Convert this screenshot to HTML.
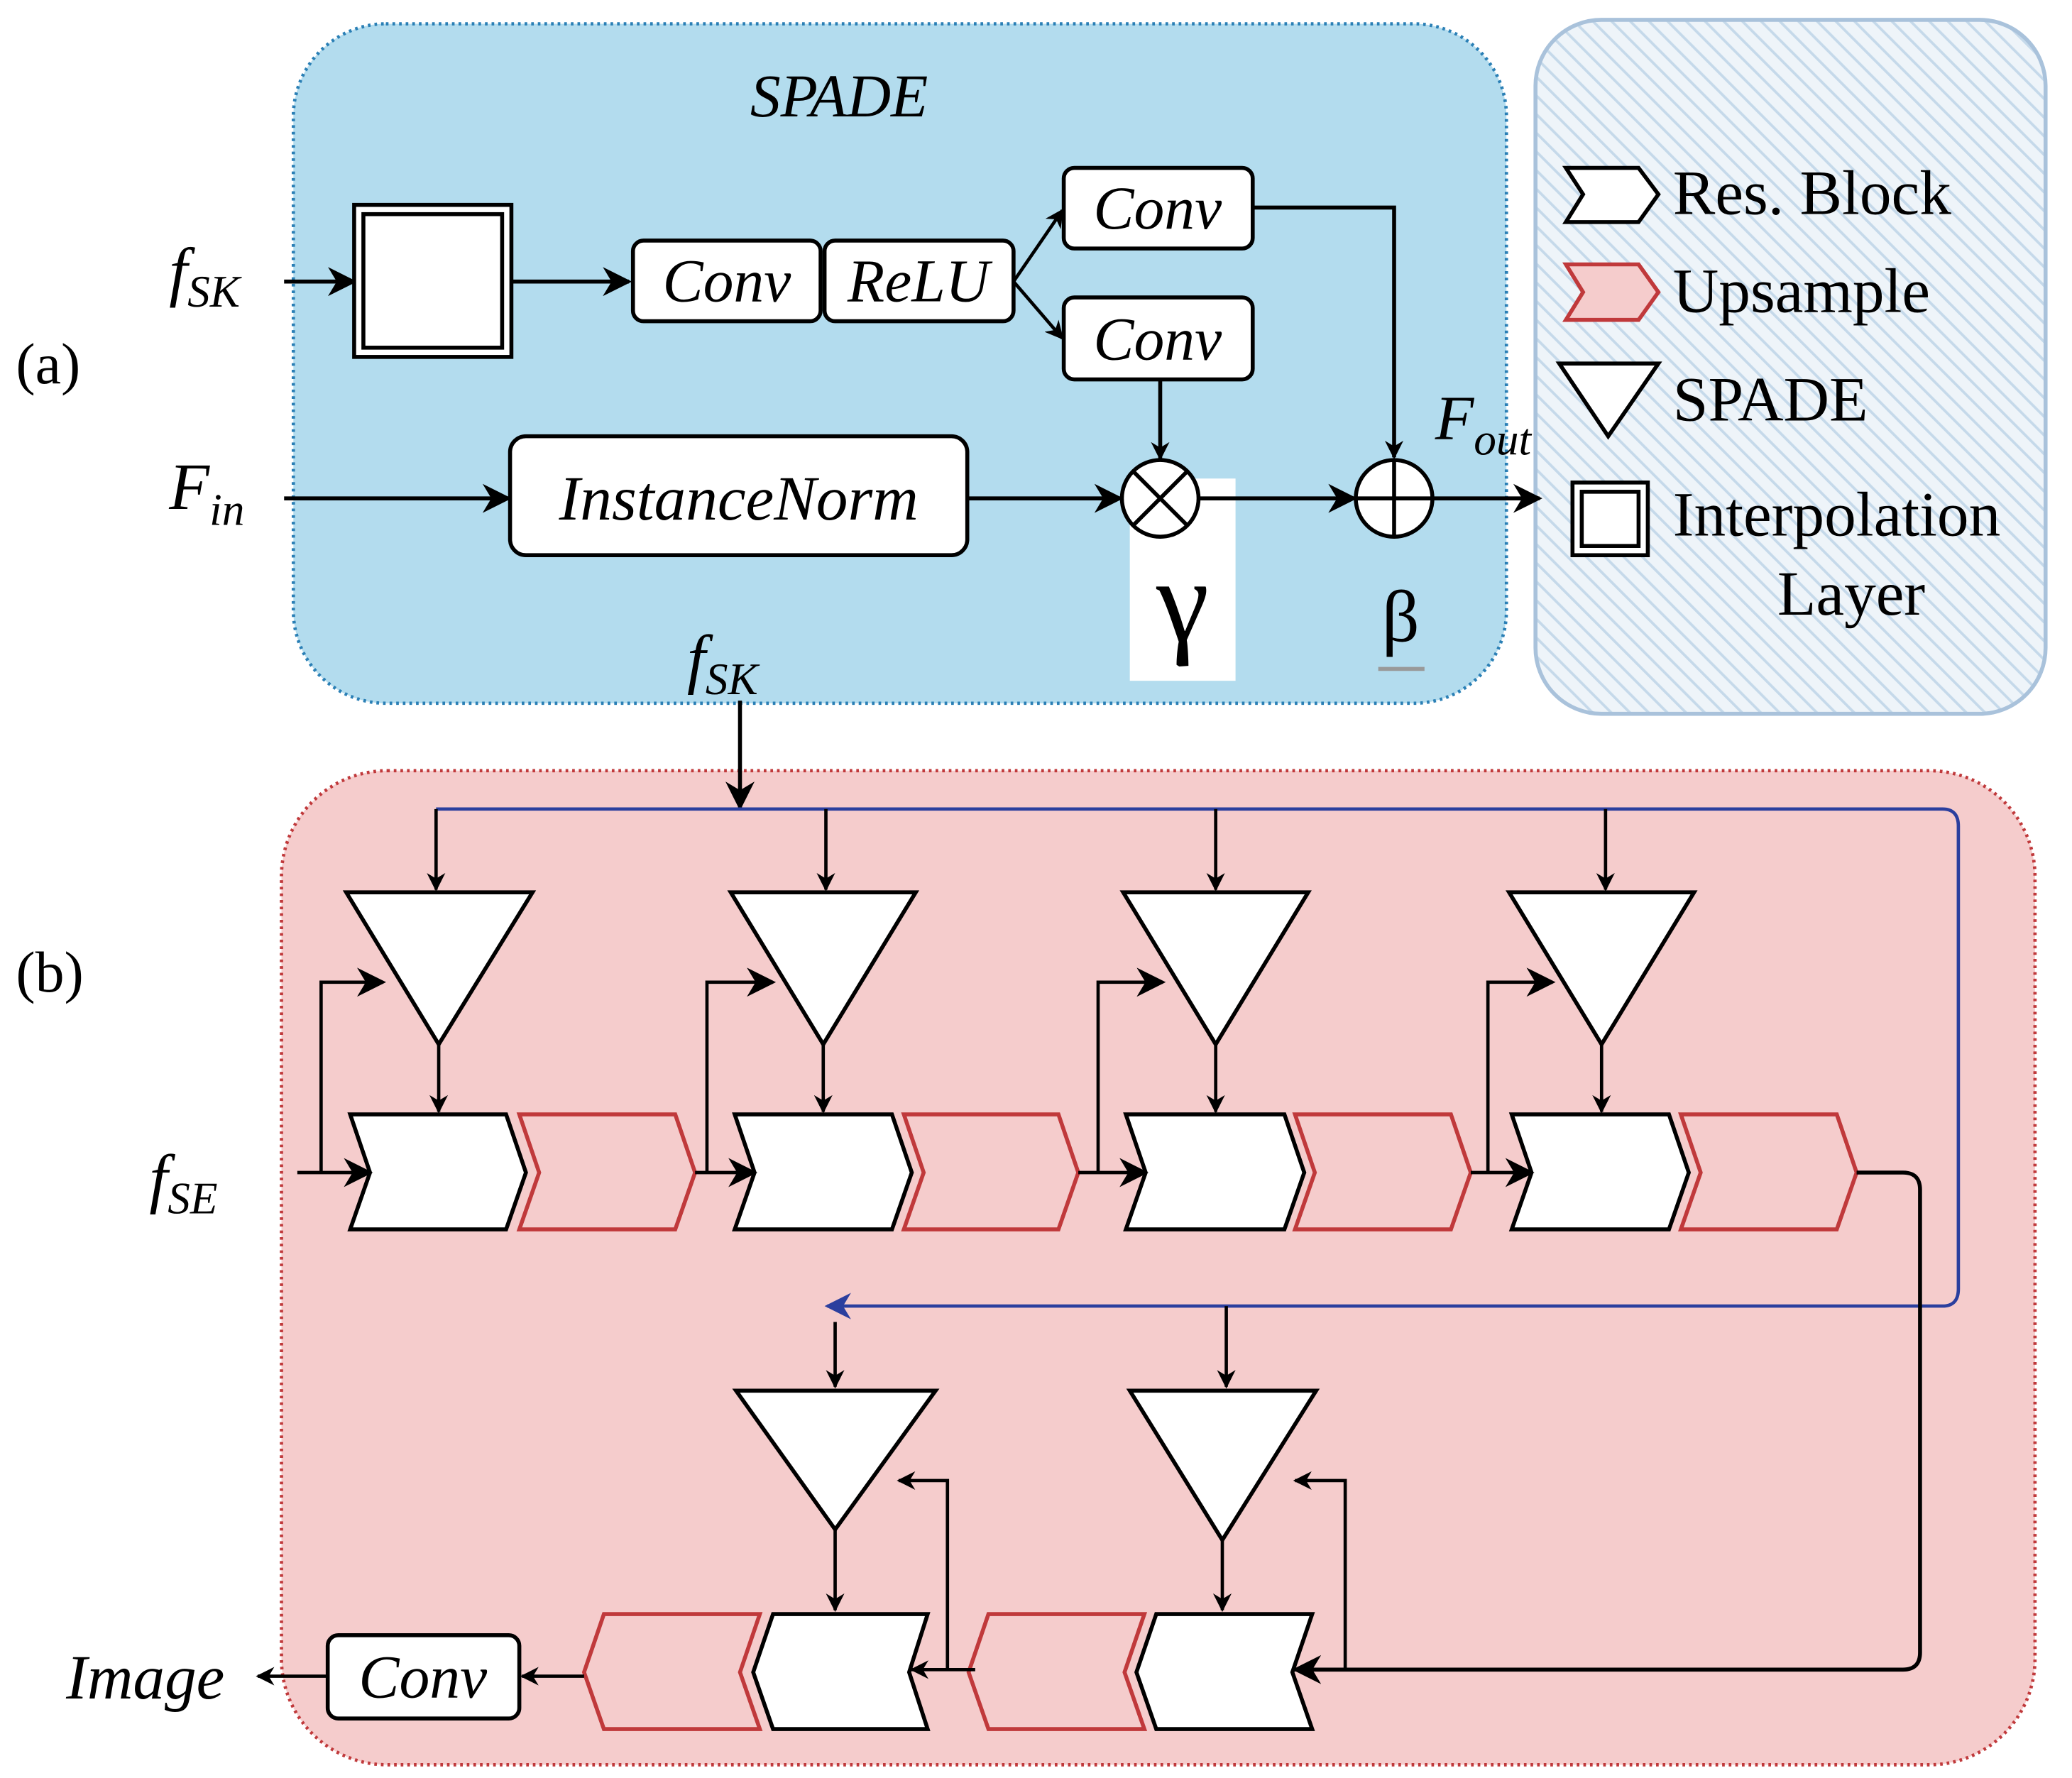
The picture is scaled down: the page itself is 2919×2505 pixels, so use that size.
<!DOCTYPE html>
<html><head><meta charset="utf-8"><style>
html,body{margin:0;padding:0;background:#fff;}
svg{display:block;}
text{font-family:"Liberation Serif",serif;}
.it{font-style:italic;font-family:"Liberation Serif","DejaVu Serif",serif;}
</style></head><body>
<svg width="2919" height="2505" viewBox="0 0 1568 1345" preserveAspectRatio="none" xmlns="http://www.w3.org/2000/svg">
<defs>
<marker id="ah" viewBox="0 0 10 10" refX="9" refY="5" markerWidth="7" markerHeight="7" orient="auto" markerUnits="userSpaceOnUse"><path d="M0,0 L10,5 L0,10 L3,5 z" fill="#000"/></marker>
<marker id="ahb" viewBox="0 0 10 10" refX="9" refY="5" markerWidth="22" markerHeight="22" orient="auto" markerUnits="userSpaceOnUse"><path d="M0,0 L10,5 L0,10 L3,5 z" fill="#000"/></marker>
<marker id="ahs" viewBox="0 0 10 10" refX="9" refY="5" markerWidth="14" markerHeight="14" orient="auto" markerUnits="userSpaceOnUse"><path d="M0,0 L10,5 L0,10 L3,5 z" fill="#000"/></marker>
<marker id="ahblue" viewBox="0 0 10 10" refX="9" refY="5" markerWidth="20" markerHeight="20" orient="auto" markerUnits="userSpaceOnUse"><path d="M0,0 L10,5 L0,10 L3,5 z" fill="#2b3f9e"/></marker>
<pattern id="hatch" width="10" height="10" patternUnits="userSpaceOnUse" patternTransform="rotate(-45)"><rect width="10" height="10" fill="#eef4f9"/><line x1="0" y1="0" x2="0" y2="10" stroke="#c5d9ea" stroke-width="4"/></pattern>
</defs>

<rect x="222" y="18" width="918" height="514" rx="70" fill="#b3dcee" stroke="#2a7fb5" stroke-width="2.5" stroke-dasharray="2,3"/>
<rect x="1162" y="15" width="386" height="525" rx="50" fill="url(#hatch)" stroke="#a9c2db" stroke-width="3"/>
<rect x="213" y="583" width="1327" height="752" rx="80" fill="#f5cccc" stroke="#c0393b" stroke-width="2.5" stroke-dasharray="2,3"/>

<text x="12" y="290" font-size="44">(a)</text>
<text x="635" y="88" font-size="46" class="it" text-anchor="middle">SPADE</text>
<text x="128" y="222" font-size="50" class="it">f<tspan font-size="34" dy="10">SK</tspan></text>
<line x1="215" y1="213" x2="268" y2="213" stroke="#000" stroke-width="3" marker-end="url(#ahb)"/>
<rect x="268" y="155" width="119" height="115" fill="#fff" stroke="#000" stroke-width="3"/>
<rect x="275" y="162" width="105" height="101" fill="#fff" stroke="#000" stroke-width="3"/>
<line x1="387" y1="213" x2="476" y2="213" stroke="#000" stroke-width="3" marker-end="url(#ahb)"/>
<rect x="479" y="182" width="142" height="61" rx="8" fill="#fff" stroke="#000" stroke-width="3"/>
<rect x="624" y="182" width="143" height="61" rx="8" fill="#fff" stroke="#000" stroke-width="3"/>
<text x="550" y="228" font-size="46" class="it" text-anchor="middle">Conv</text>
<text x="695" y="228" font-size="46" class="it" text-anchor="middle">ReLU</text>
<line x1="767" y1="213" x2="804" y2="159" stroke="#000" stroke-width="2.5" marker-end="url(#ahs)"/>
<line x1="767" y1="213" x2="804" y2="256" stroke="#000" stroke-width="2.5" marker-end="url(#ahs)"/>
<rect x="805" y="127" width="143" height="61" rx="8" fill="#fff" stroke="#000" stroke-width="3"/>
<rect x="805" y="225" width="143" height="62" rx="8" fill="#fff" stroke="#000" stroke-width="3"/>
<text x="876" y="173" font-size="46" class="it" text-anchor="middle">Conv</text>
<text x="876" y="272" font-size="46" class="it" text-anchor="middle">Conv</text>
<polyline points="948,157 1055,157 1055,346" fill="none" stroke="#000" stroke-width="3" marker-end="url(#ahs)"/>
<line x1="878" y1="287" x2="878" y2="347" stroke="#000" stroke-width="3" marker-end="url(#ahs)"/>
<text x="128" y="385" font-size="50" class="it">F<tspan font-size="34" dy="12">in</tspan></text>
<line x1="215" y1="377" x2="385" y2="377" stroke="#000" stroke-width="3" marker-end="url(#ahb)"/>
<rect x="386" y="330" width="346" height="90" rx="12" fill="#fff" stroke="#000" stroke-width="3"/>
<text x="559" y="393" font-size="48" class="it" text-anchor="middle">InstanceNorm</text>
<line x1="732" y1="377" x2="848" y2="377" stroke="#000" stroke-width="3" marker-end="url(#ahb)"/>
<rect x="855" y="362" width="80" height="153" fill="#fff"/>
<circle cx="878" cy="377" r="29" fill="#fff" stroke="#000" stroke-width="3"/>
<line x1="858" y1="357" x2="898" y2="397" stroke="#000" stroke-width="3"/>
<line x1="898" y1="357" x2="858" y2="397" stroke="#000" stroke-width="3"/>
<line x1="907" y1="377" x2="1025" y2="377" stroke="#000" stroke-width="3" marker-end="url(#ahb)"/>
<circle cx="1055" cy="377" r="29" fill="#fff" stroke="#000" stroke-width="3"/>
<line x1="1026" y1="377" x2="1084" y2="377" stroke="#000" stroke-width="3"/>
<line x1="1055" y1="348" x2="1055" y2="406" stroke="#000" stroke-width="3"/>
<line x1="1084" y1="377" x2="1165" y2="377" stroke="#000" stroke-width="3" marker-end="url(#ahb)"/>
<text x="1086" y="332" font-size="48" class="it">F<tspan font-size="34" dy="12">out</tspan></text>
<text x="895" y="485" font-size="90" text-anchor="middle">γ</text>
<text x="1060" y="485" font-size="56" text-anchor="middle">β</text>
<line x1="1043" y1="506" x2="1078" y2="506" stroke="#999" stroke-width="3"/>
<text x="520" y="515" font-size="50" class="it">f<tspan font-size="34" dy="10">SK</tspan></text>
<line x1="560" y1="530" x2="560" y2="611" stroke="#000" stroke-width="3" marker-end="url(#ahb)"/>

<polygon points="1185,127 1240,127 1255,147 1240,168 1185,168 1198,147" fill="#fff" stroke="#000" stroke-width="3"/>
<text x="1266" y="162" font-size="48">Res. Block</text>
<polygon points="1185,200 1240,200 1255,221 1240,242 1185,242 1198,221" fill="#f5cccc" stroke="#c0393b" stroke-width="3"/>
<text x="1266" y="236" font-size="48">Upsample</text>
<polygon points="1180,275 1255,275 1217,330" fill="#fff" stroke="#000" stroke-width="3"/>
<text x="1266" y="318" font-size="48">SPADE</text>
<rect x="1190" y="365" width="57" height="55" fill="#fff" stroke="#000" stroke-width="3"/>
<rect x="1197" y="372" width="43" height="41" fill="#fff" stroke="#000" stroke-width="3"/>
<text x="1266" y="405" font-size="48">Interpolation</text>
<text x="1345" y="465" font-size="48">Layer</text>

<text x="12" y="750" font-size="44">(b)</text>
<path d="M330,612 L1470,612 Q1482,612 1482,625 L1482,975 Q1482,988 1470,988 L626,988" fill="none" stroke="#2b3f9e" stroke-width="2.5" marker-end="url(#ahblue)"/>
<g stroke="#000" stroke-width="2.5" fill="none">
<line x1="330" y1="612" x2="330" y2="673" marker-end="url(#ahs)"/>
<line x1="625" y1="612" x2="625" y2="673" marker-end="url(#ahs)"/>
<line x1="920" y1="612" x2="920" y2="673" marker-end="url(#ahs)"/>
<line x1="1215" y1="612" x2="1215" y2="673" marker-end="url(#ahs)"/>
</g>
<g fill="#fff" stroke="#000" stroke-width="3">
<polygon points="262,675 403,675 332,790"/>
<polygon points="553,675 693,675 623,790"/>
<polygon points="850,675 990,675 920,790"/>
<polygon points="1142,675 1282,675 1212,790"/>
</g>
<g stroke="#000" stroke-width="2.5" fill="none">
<line x1="332" y1="790" x2="332" y2="841" marker-end="url(#ahs)"/>
<line x1="623" y1="790" x2="623" y2="841" marker-end="url(#ahs)"/>
<line x1="920" y1="790" x2="920" y2="841" marker-end="url(#ahs)"/>
<line x1="1212" y1="790" x2="1212" y2="841" marker-end="url(#ahs)"/>
</g>
<g fill="#fff" stroke="#000" stroke-width="3">
<polygon points="265,843 383,843 398,887 383,930 265,930 280,887"/>
<polygon points="556,843 675,843 690,887 675,930 556,930 571,887"/>
<polygon points="852,843 972,843 987,887 972,930 852,930 867,887"/>
<polygon points="1144,843 1263,843 1278,887 1263,930 1144,930 1159,887"/>
</g>
<g fill="#f5cccc" stroke="#c0393b" stroke-width="3">
<polygon points="393,843 511,843 526,887 511,930 393,930 408,887"/>
<polygon points="684,843 801,843 816,887 801,930 684,930 699,887"/>
<polygon points="980,843 1098,843 1113,887 1098,930 980,930 995,887"/>
<polygon points="1272,843 1390,843 1405,887 1390,930 1272,930 1287,887"/>
</g>
<text x="113" y="908" font-size="50" class="it">f<tspan font-size="34" dy="10">SE</tspan></text>
<g stroke="#000" stroke-width="2.5" fill="none">
<line x1="225" y1="887" x2="280" y2="887" marker-end="url(#ahb)"/>
<polyline points="243,887 243,743 290,743" marker-end="url(#ahb)"/>
<line x1="526" y1="887" x2="571" y2="887" marker-end="url(#ahb)"/>
<polyline points="535,887 535,743 585,743" marker-end="url(#ahb)"/>
<line x1="816" y1="887" x2="867" y2="887" marker-end="url(#ahb)"/>
<polyline points="831,887 831,743 880,743" marker-end="url(#ahb)"/>
<line x1="1113" y1="887" x2="1159" y2="887" marker-end="url(#ahb)"/>
<polyline points="1126,887 1126,743 1175,743" marker-end="url(#ahb)"/>
<path d="M1405,887 L1440,887 Q1453,887 1453,900 L1453,1250 Q1453,1263 1440,1263 L980,1263" stroke-width="3" marker-end="url(#ahb)"/>
<line x1="632" y1="1000" x2="632" y2="1049" marker-end="url(#ahs)"/>
<line x1="928" y1="988" x2="928" y2="1049" marker-end="url(#ahs)"/>
</g>
<g fill="#fff" stroke="#000" stroke-width="3">
<polygon points="557,1052 708,1052 632,1157"/>
<polygon points="855,1052 996,1052 925,1165"/>
</g>
<g stroke="#000" stroke-width="2.5" fill="none">
<line x1="632" y1="1157" x2="632" y2="1218" marker-end="url(#ahs)"/>
<line x1="925" y1="1165" x2="925" y2="1218" marker-end="url(#ahs)"/>
</g>
<g fill="#fff" stroke="#000" stroke-width="3">
<polygon points="585,1221 702,1221 688,1265 702,1308 585,1308 570,1265"/>
<polygon points="875,1221 993,1221 978,1265 993,1308 875,1308 860,1265"/>
</g>
<g fill="#f5cccc" stroke="#c0393b" stroke-width="3">
<polygon points="457,1221 575,1221 560,1265 575,1308 457,1308 442,1265"/>
<polygon points="748,1221 866,1221 851,1265 866,1308 748,1308 733,1265"/>
</g>
<g stroke="#000" stroke-width="2.5" fill="none">
<polyline points="1018,1263 1018,1120 980,1120" marker-end="url(#ahs)"/>
<polyline points="717,1263 717,1120 680,1120" marker-end="url(#ahs)"/>
<line x1="738" y1="1263" x2="690" y2="1263" marker-end="url(#ahs)"/>
<line x1="442" y1="1268" x2="395" y2="1268" marker-end="url(#ahs)"/>
<line x1="248" y1="1268" x2="195" y2="1268" marker-end="url(#ahs)"/>
</g>
<rect x="248" y="1237" width="145" height="63" rx="8" fill="#fff" stroke="#000" stroke-width="3"/>
<text x="320" y="1284" font-size="46" class="it" text-anchor="middle">Conv</text>
<text x="50" y="1285" font-size="48" class="it">Image</text>
</svg>
</body></html>
